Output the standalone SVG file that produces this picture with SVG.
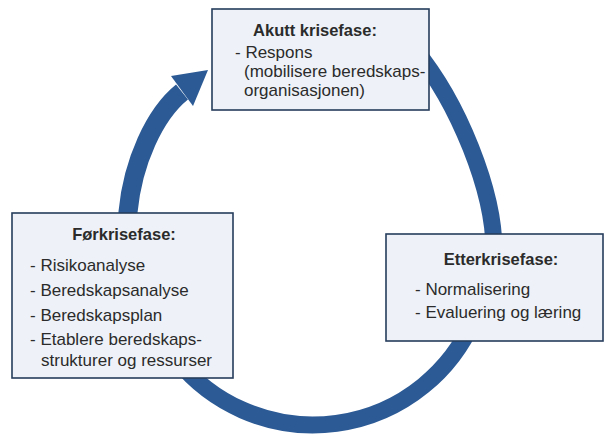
<svg xmlns="http://www.w3.org/2000/svg" width="605" height="434" viewBox="0 0 605 434">
<style>
.box{fill:#eef2f8;stroke:#263d5c;stroke-width:1.6}
.t{font-family:"Liberation Sans",Arial,sans-serif;font-size:17px;fill:#2b2b2b}
.h{font-family:"Liberation Sans",Arial,sans-serif;font-size:16.5px;font-weight:bold;fill:#2b2b2b;text-anchor:middle}
.ring{fill:none;stroke:#2c5a95;stroke-width:17}
</style>
<rect width="605" height="434" fill="#ffffff"/>
<g id="connectors">
<path class="ring" d="M415,50 C458.5,103 494,190.9 494,250"/>
<path class="ring" d="M473.4,320 A175,175 0 0 1 177,360"/>
<path class="ring" style="stroke-width:19" d="M128,245 L128,212 C132.7,162.3 154.4,114.3 182,92"/>
<polygon points="208,70 171,76 193,106" fill="#2c5a95"/>
</g>
<g id="akutt">
<rect class="box" x="212" y="9" width="217" height="101"/>
<text class="h" x="315" y="36">Akutt krisefase:</text>
<text class="t" x="235" y="58">- Respons</text>
<text class="t" x="244" y="77">(mobilisere beredskaps-</text>
<text class="t" x="244" y="96">organisasjonen)</text>
</g>
<g id="forkrise">
<rect class="box" x="12" y="213" width="221" height="165"/>
<text class="h" x="124" y="240">Førkrisefase:</text>
<text class="t" x="30" y="271">- Risikoanalyse</text>
<text class="t" x="30" y="296">- Beredskapsanalyse</text>
<text class="t" x="30" y="321">- Beredskapsplan</text>
<text class="t" x="30" y="345">- Etablere beredskaps-</text>
<text class="t" x="41" y="366">strukturer og ressurser</text>
</g>
<g id="etterkrise">
<rect class="box" x="386" y="234" width="217" height="107"/>
<text class="h" x="501" y="265">Etterkrisefase:</text>
<text class="t" x="415" y="295">- Normalisering</text>
<text class="t" x="415" y="318">- Evaluering og læring</text>
</g>
</svg>
